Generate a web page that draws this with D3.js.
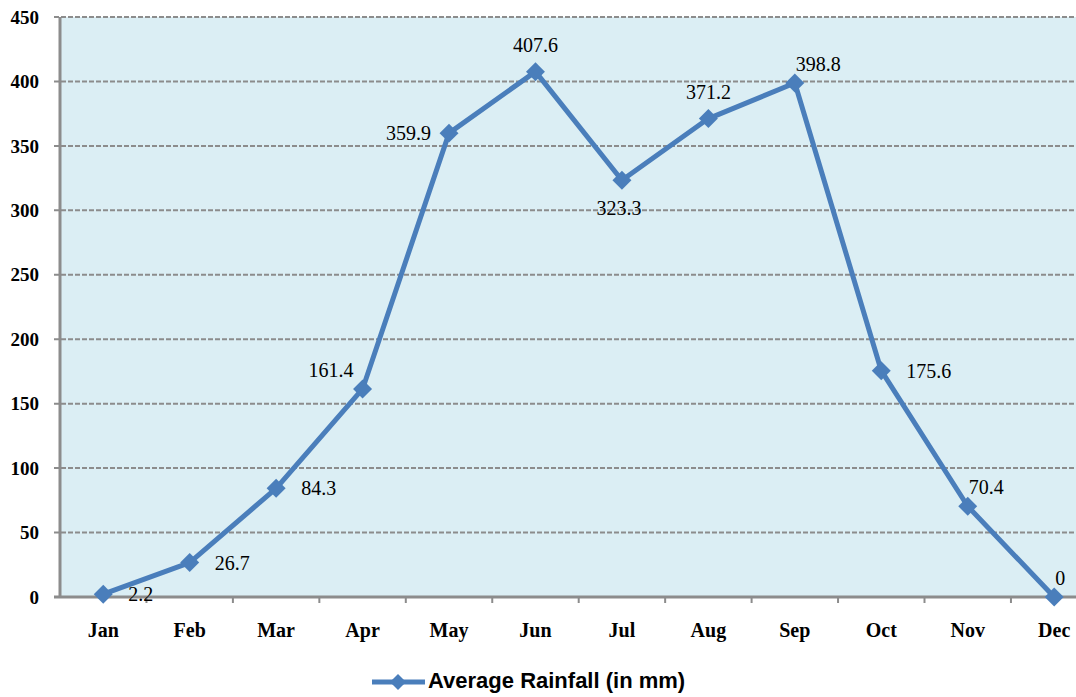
<!DOCTYPE html>
<html><head><meta charset="utf-8">
<script src="https://cdn.jsdelivr.net/npm/d3@7"></script>
<style>body{margin:0;background:#fff}svg{display:block}</style>
</head><body>
<svg id="c" width="1076" height="697"></svg>
<script>
const months = ["Jan","Feb","Mar","Apr","May","Jun","Jul","Aug","Sep","Oct","Nov","Dec"];
const rainfall = [2.2,26.7,84.3,161.4,359.9,407.6,323.3,371.2,398.8,175.6,70.4,0];
const yTicks = [0,50,100,150,200,250,300,350,400,450];
const seriesName = "Average Rainfall (in mm)";
const labelPlacement = ["right","right","right","upleft","left","above","below","above","upright","right","upright","upright"];

(function(){
const svg = d3.select("#c");
const pLeft = 60, pTop = 17, pBottom = 597;
const band = 86.45;
const serif = "'Liberation Serif', 'Times New Roman', serif";
const x = d3.scaleBand().domain(months).range([pLeft, pLeft + band*months.length]).padding(0);
const y = d3.scaleLinear().domain([0,450]).range([pBottom, pTop]);
const color = "#4a7ebb";

svg.append("rect").attr("x", pLeft).attr("y", pTop).attr("width", 1076-pLeft).attr("height", pBottom-pTop).attr("fill", "#dbeef4");

svg.append("g").selectAll("line").data(yTicks.filter(d=>d>0)).join("line")
  .attr("x1", pLeft-6).attr("x2", 1076).attr("y1", d=>y(d)).attr("y2", d=>y(d))
  .attr("stroke", "#8c8c8c").attr("stroke-width", 2).attr("stroke-dasharray", "5,2");

svg.append("g").selectAll("text").data(yTicks).join("text")
  .attr("x", 39).attr("y", d=>y(d)).attr("dy","0.35em").attr("text-anchor","end")
  .attr("font-family",serif).attr("font-weight","bold").attr("font-size",19)
  .text(d=>d);

svg.append("line").attr("x1", pLeft).attr("x2", pLeft).attr("y1", pTop).attr("y2", pBottom+1)
  .attr("stroke","#8c8c8c").attr("stroke-width",3);
svg.append("line").attr("x1", pLeft-6).attr("x2", 1076).attr("y1", pBottom).attr("y2", pBottom)
  .attr("stroke","#8c8c8c").attr("stroke-width",3);
svg.append("g").selectAll("line").data(months).join("line")
  .attr("x1", d=>x(d)+band).attr("x2", d=>x(d)+band).attr("y1", pBottom).attr("y2", pBottom+6)
  .attr("stroke","#8c8c8c").attr("stroke-width",2);
svg.append("g").selectAll("text").data(months).join("text")
  .attr("x", d=>x(d)+band/2).attr("y", 637).attr("text-anchor","middle")
  .attr("font-family",serif).attr("font-weight","bold").attr("font-size",20)
  .text(d=>d);

const cx = (d,i)=>x(months[i])+band/2;
const line = d3.line().x((d,i)=>cx(d,i)).y(d=>y(d));
svg.append("path").datum(rainfall).attr("d", line).attr("fill","none")
  .attr("stroke", color).attr("stroke-width", 5).attr("stroke-linejoin","round");

svg.append("g").selectAll("path").data(rainfall).join("path")
  .attr("d", d3.symbol().type(d3.symbolSquare).size(180))
  .attr("transform",(d,i)=>`translate(${cx(d,i)},${y(d)}) rotate(45)`)
  .attr("fill", color);

const off = {
  right:  {dx: 25, dy: 0, a:"start"},
  left:   {dx: -18, dy: 0, a:"end"},
  above:  {dx: 0, dy: -27, a:"middle"},
  below:  {dx: -3, dy: 28, a:"middle"},
  upleft: {dx: -9, dy: -19, a:"end"},
  upright:{dx: 1, dy: -19, a:"start"}
};
svg.append("g").selectAll("text").data(rainfall).join("text")
  .attr("x",(d,i)=>cx(d,i)+off[labelPlacement[i]].dx)
  .attr("y",(d,i)=>y(d)+off[labelPlacement[i]].dy)
  .attr("dy","0.35em").attr("text-anchor",(d,i)=>off[labelPlacement[i]].a)
  .attr("font-family",serif).attr("font-size",20).attr("fill","#000")
  .text(d=>d);

const lg = svg.append("g");
lg.append("line").attr("x1",372).attr("x2",425).attr("y1",682).attr("y2",682).attr("stroke",color).attr("stroke-width",5);
lg.append("path").attr("d", d3.symbol().type(d3.symbolSquare).size(130)).attr("transform","translate(398,682) rotate(45)").attr("fill",color);
lg.append("text").attr("x",428).attr("y",688)
  .attr("font-family","'Liberation Sans', Arial, sans-serif").attr("font-weight","bold").attr("font-size",22)
  .text(seriesName);
})();
</script>
</body></html>
